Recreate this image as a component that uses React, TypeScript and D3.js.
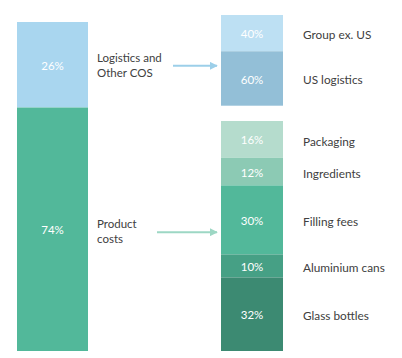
import React from "react";
import * as d3 from "d3";

const leftCats = ["Logistics and Other COS", "Product costs"];
const leftVals = [26, 74];
const leftLabelLines = [["Logistics and", "Other COS"], ["Product", "costs"]];
const leftColors = ["#a9d6ef", "#52b89a"];

const logiCats = ["Group ex. US", "US logistics"];
const logiVals = [40, 60];
const logiColors = ["#bde0f3", "#93bfd7"];

const prodCats = ["Packaging", "Ingredients", "Filling fees", "Aluminium cans", "Glass bottles"];
const prodVals = [16, 12, 30, 10, 32];
const prodColors = ["#b5dccd", "#8ccab4", "#52b89a", "#46a085", "#3c8a72"];

const W = 402, H = 358;
const FONT = "Lato, 'Open Sans', sans-serif";

function stack(vals: number[]) {
  let acc = 0;
  return vals.map((v) => { const s = acc; acc += v; return { v, s, e: acc }; });
}

export default function App() {
  const yLeft = d3.scaleLinear().domain([0, 100]).range([22, 351]);
  const yLogi = d3.scaleLinear().domain([0, 100]).range([15, 105.7]);
  const yProd = d3.scaleLinear().domain([0, 100]).range([121, 351]);
  const xL = [17, 88];
  const xR = [221, 283];

  const left = stack(leftVals);
  const logi = stack(logiVals);
  const prod = stack(prodVals);

  const arrowColors = ["#9ccfe9", "#9dd7c4"];
  const arrowY = [yLeft((left[0].s + left[0].e) / 2) + 1, yLeft((left[1].s + left[1].e) / 2) + 3];
  const arrowX0 = [173, 157];
  const arrowX1 = 217;

  const seg = (
    d: { v: number; s: number; e: number },
    i: number,
    y: d3.ScaleLinear<number, number>,
    x: number[],
    colors: string[],
    key: string
  ) => (
    <g key={key + i}>
      <rect x={x[0]} y={y(d.s)} width={x[1] - x[0]} height={y(d.e) - y(d.s)} fill={colors[i]} />
      <text
        x={(x[0] + x[1]) / 2}
        y={(y(d.s) + y(d.e)) / 2 + 1}
        dy="0.35em"
        textAnchor="middle"
        fill="#ffffff"
        fontSize={11.5}
        fontFamily={FONT}
      >
        {d.v}%
      </text>
    </g>
  );

  return (
    <svg width={W} height={H} style={{ position: "absolute", left: 0, top: 0 }}>
      <rect width={W} height={H} fill="#ffffff" />
      <defs>
        {arrowColors.map((c, i) => (
          <marker key={i} id={"ah" + i} viewBox="0 0 10 10" refX="9" refY="5" markerWidth="4" markerHeight="4" orient="auto">
            <path d="M0,0 L10,5 L0,10 z" fill={c} />
          </marker>
        ))}
      </defs>
      {left.map((d, i) => seg(d, i, yLeft, xL, leftColors, "l"))}
      {logi.map((d, i) => seg(d, i, yLogi, xR, logiColors, "g"))}
      {prod.map((d, i) => seg(d, i, yProd, xR, prodColors, "p"))}

      {leftLabelLines.map((lines, i) => (
        <text key={"ll" + i} x={97} y={arrowY[i] - 8} dy="0.35em" fontSize={11.5} fill="#404040" fontFamily={FONT}>
          {lines.map((t, j) => (
            <tspan key={j} x={97} dy={j === 0 ? "0.35em" : 15}>{t}</tspan>
          ))}
        </text>
      ))}

      {arrowY.map((yy, i) => (
        <line key={"a" + i} x1={arrowX0[i]} y1={yy} x2={arrowX1} y2={yy} stroke={arrowColors[i]} strokeWidth={2} markerEnd={`url(#ah${i})`} />
      ))}

      {logi.map((d, i) => (
        <text key={"gl" + i} x={303} y={(yLogi(d.s) + yLogi(d.e)) / 2 + 1.5} dy="0.35em" fontSize={11.8} fill="#404040" fontFamily={FONT}>
          {logiCats[i]}
        </text>
      ))}
      {prod.map((d, i) => (
        <text key={"pl" + i} x={303} y={(yProd(d.s) + yProd(d.e)) / 2 + 2} dy="0.35em" fontSize={11.8} fill="#404040" fontFamily={FONT}>
          {prodCats[i]}
        </text>
      ))}
    </svg>
  );
}
